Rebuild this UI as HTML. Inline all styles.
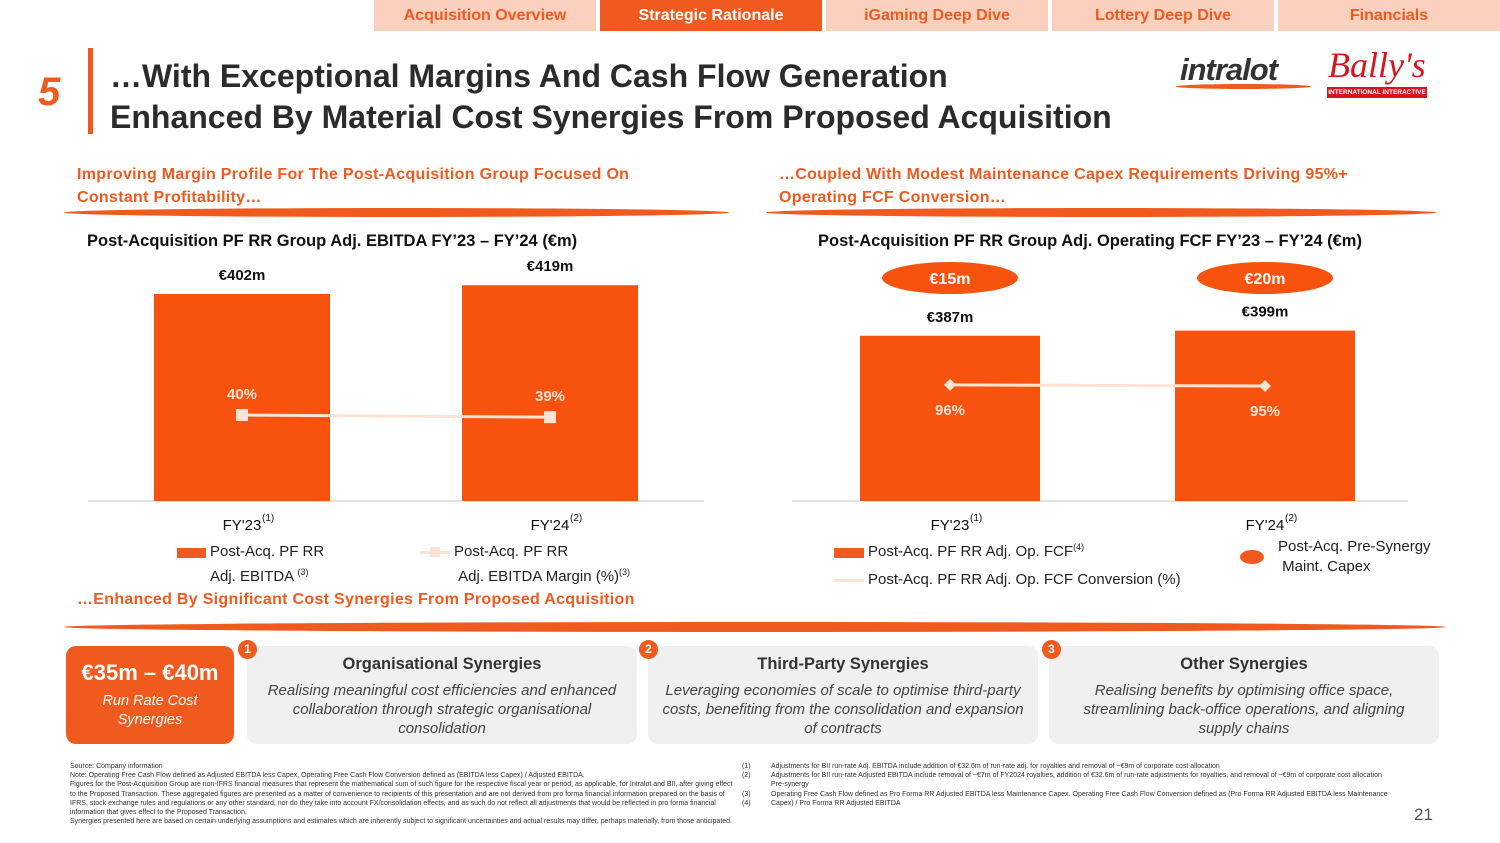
<!DOCTYPE html>
<html><head><meta charset="utf-8">
<style>
*{margin:0;padding:0;box-sizing:border-box}
body{width:1500px;height:843px;background:#fff;font-family:"Liberation Sans",sans-serif;position:relative;overflow:hidden;color:#222}
.abs{position:absolute}
.tab{position:absolute;top:0;height:31px;background:#fbd0bf;color:#f05a1e;font-weight:bold;font-size:16px;text-align:center;line-height:31px}
.tab.on{background:#f05a1e;color:#fff}
.sub{color:#f05a1e;font-weight:bold;font-size:16px;line-height:23px;letter-spacing:.3px}
.swoosh{position:absolute;height:9px;background:#f05a1e;border-radius:50%}
.ct{font-weight:bold;font-size:16.5px;color:#111}
.card{position:absolute;top:646px;height:98px;background:#f0f0f0;border-radius:10px;text-align:center}
.card h3{font-size:16.5px;margin-top:9px;color:#333}
.card p{font-style:italic;font-size:15px;line-height:19px;color:#444;margin-top:7px;padding:0 8px}
.num{position:absolute;width:19px;height:19px;border-radius:50%;background:#f05a1e;color:#fff;font-size:12px;font-weight:bold;text-align:center;line-height:19px}
.fn{font-size:7px;line-height:9.2px;color:#333}
</style></head><body>
<div class="tab" style="left:374px;width:222px">Acquisition Overview</div>
<div class="tab on" style="left:600px;width:222px">Strategic Rationale</div>
<div class="tab" style="left:826px;width:222px">iGaming Deep Dive</div>
<div class="tab" style="left:1052px;width:222px">Lottery Deep Dive</div>
<div class="tab" style="left:1278px;width:222px">Financials</div>

<div class="abs" style="left:38px;top:70px;font-size:40px;font-weight:bold;font-style:italic;color:#f05a1e">5</div>
<div class="abs" style="left:88px;top:48px;width:5px;height:86px;background:#f05a1e"></div>
<div class="abs" style="left:110px;top:56px;font-size:32px;font-weight:bold;line-height:41px;color:#2b2b2b">…With Exceptional Margins And Cash Flow Generation<br>Enhanced By Material Cost Synergies From Proposed Acquisition</div>

<div class="abs" style="left:1180px;top:52px;font-size:31px;font-weight:900;font-style:italic;color:#333;letter-spacing:-1px">intralot</div>
<div class="abs" style="left:1176px;top:84px;width:135px;height:5px;background:#f05a1e;border-radius:50%"></div>
<div class="abs" style="left:1328px;top:44px;font-size:36px;font-style:italic;font-family:'Liberation Serif',serif;color:#d8141e">Bally's</div>
<div class="abs" style="left:1327px;top:87px;width:100px;height:11px;background:#d8141e;color:#fff;font-size:6.5px;font-weight:bold;text-align:center;line-height:11px">INTERNATIONAL INTERACTIVE</div>

<div class="abs sub" style="left:77px;top:163px">Improving Margin Profile For The Post-Acquisition Group Focused On<br>Constant Profitability…</div>
<div class="swoosh" style="left:64px;top:208px;width:665px"></div>
<div class="abs sub" style="left:779px;top:163px">…Coupled With Modest Maintenance Capex Requirements Driving 95%+<br>Operating FCF Conversion…</div>
<div class="swoosh" style="left:766px;top:208px;width:670px"></div>

<div class="abs ct" style="left:87px;top:232px">Post-Acquisition PF RR Group Adj. EBITDA FY’23 – FY’24 (€m)</div>
<div class="abs ct" style="left:818px;top:232px">Post-Acquisition PF RR Group Adj. Operating FCF FY’23 – FY’24 (€m)</div>

<svg class="abs" style="left:0;top:0" width="1500" height="620" id="charts"></svg>

<div class="abs" style="left:177px;top:548px;width:29px;height:10px;background:#f05a1e"></div>
<div class="abs" style="left:210px;top:542px;font-size:15px;line-height:20px">Post-Acq. PF RR<br>Adj. EBITDA <sup style="font-size:9px">(3)</sup></div>
<div class="abs" style="left:420px;top:551px;width:30px;height:3px;background:#fde3d4"></div>
<div class="abs" style="left:430px;top:547px;width:10px;height:10px;background:#fde3d4"></div>
<div class="abs" style="left:454px;top:542px;font-size:15px;line-height:20px">Post-Acq. PF RR<br>&nbsp;Adj. EBITDA Margin (%)<sup style="font-size:9px">(3)</sup></div>
<div class="abs" style="left:834px;top:548px;width:30px;height:10px;background:#f05a1e"></div>
<div class="abs" style="left:868px;top:542px;font-size:15px">Post-Acq. PF RR Adj. Op. FCF<sup style="font-size:9px">(4)</sup></div>
<div class="abs" style="left:834px;top:579px;width:30px;height:3px;background:#fde3d4"></div>
<div class="abs" style="left:868px;top:571px;font-size:15px">Post-Acq. PF RR Adj. Op. FCF Conversion (%)</div>
<div class="abs" style="left:1240px;top:550px;width:24px;height:14px;border-radius:50%;background:#f05a1e"></div>
<div class="abs" style="left:1278px;top:537px;font-size:15px;line-height:20px">Post-Acq. Pre-Synergy<br>&nbsp;Maint. Capex</div>

<div class="abs sub" style="left:77px;top:588px">…Enhanced By Significant Cost Synergies From Proposed Acquisition</div>
<div class="swoosh" style="left:64px;top:622px;width:1382px;height:10px"></div>

<div class="abs" style="left:66px;top:646px;width:168px;height:98px;background:#f05a1e;border-radius:10px;color:#fff;text-align:center">
<div style="font-size:22px;font-weight:bold;margin-top:14px">€35m – €40m</div>
<div style="font-size:14.5px;font-style:italic;line-height:19px;margin-top:6px">Run Rate Cost<br>Synergies</div></div>
<div class="card" style="left:247px;width:390px"><h3>Organisational Synergies</h3><p>Realising meaningful cost efficiencies and enhanced collaboration through strategic organisational consolidation</p></div>
<div class="card" style="left:648px;width:390px"><h3>Third-Party Synergies</h3><p>Leveraging economies of scale to optimise third-party costs, benefiting from the consolidation and expansion of contracts</p></div>
<div class="card" style="left:1049px;width:390px"><h3>Other Synergies</h3><p style="padding:0 22px">Realising benefits by optimising office space, streamlining back-office operations, and aligning supply chains</p></div>
<div class="num" style="left:238px;top:640px">1</div>
<div class="num" style="left:639px;top:640px">2</div>
<div class="num" style="left:1042px;top:640px">3</div>

<div class="abs fn" style="left:70px;top:762px;width:670px">Source: Company information<br>Note: Operating Free Cash Flow defined as Adjusted EBITDA less Capex, Operating Free Cash Flow Conversion defined as (EBITDA less Capex) / Adjusted EBITDA.<br>Figures for the Post-Acquisition Group are non-IFRS financial measures that represent the mathematical sum of such figure for the respective fiscal year or period, as applicable, for Intralot and BII, after giving effect to the Proposed Transaction. These aggregated figures are presented as a matter of convenience to recipients of this presentation and are not derived from pro forma financial information prepared on the basis of IFRS, stock exchange rules and regulations or any other standard, nor do they take into account FX/consolidation effects, and as such do not reflect all adjustments that would be reflected in pro forma financial information that gives effect to the Proposed Transaction.<br>Synergies presented here are based on certain underlying assumptions and estimates which are inherently subject to significant uncertainties and actual results may differ, perhaps materially, from those anticipated.</div>
<div class="abs fn" style="left:742px;top:762px;text-align:right">(1)<br>(2)<br><br>(3)<br>(4)</div>
<div class="abs fn" style="left:771px;top:762px;width:620px">Adjustments for BII run-rate Adj. EBITDA include addition of €32.6m of run-rate adj. for royalties and removal of ~€9m of corporate cost allocation<br>Adjustments for BII run-rate Adjusted EBITDA include removal of ~€7m of FY2024 royalties, addition of €32.6m of run-rate adjustments for royalties, and removal of ~€9m of corporate cost allocation<br>Pre-synergy<br>Operating Free Cash Flow defined as Pro Forma RR Adjusted EBITDA less Maintenance Capex. Operating Free Cash Flow Conversion defined as (Pro Forma RR Adjusted EBITDA less Maintenance Capex) / Pro Forma RR Adjusted EBITDA</div>
<div class="abs" style="left:1414px;top:805px;font-size:17px;color:#555">21</div>

<script>
const categories=["FY'23","FY'24"];
const catNotes=["(1)","(2)"];
const ebitda=[402,419];
const ebitdaLabels=["€402m","€419m"];
const margin=[40,39];
const fcf=[387,399];
const fcfLabels=["€387m","€399m"];
const conversion=[96,95];
const capex=[15,20];
const NS="http://www.w3.org/2000/svg";
const svg=document.getElementById('charts');
function mk(t,a,txt){const e=document.createElementNS(NS,t);for(const k in a)e.setAttribute(k,a[k]);if(txt!==undefined)e.textContent=txt;svg.appendChild(e);return e;}
const base=501;
function draw(cfg){
  const ax=mk('line',{x1:cfg.x0,x2:cfg.x1,y1:base,y2:base,stroke:'#d9d9d9','stroke-width':1.5});
  
  const pts=[];
  categories.forEach((c,i)=>{
    const cx=cfg.cx[i], h=cfg.bars[i]*cfg.k, y=base-h;
    const r=mk('rect',{x:cx-cfg.bw/2,y:y,width:cfg.bw,height:h,fill:'#f7530f'});
    
    const l=mk('text',{x:cx,y:y-14,'text-anchor':'middle','font-size':15,'font-weight':'bold',fill:'#111'},cfg.labels[i]);
    
    const tl=mk('text',{x:cx,y:530,'text-anchor':'middle','font-size':15,fill:'#111'},c);
    
    const tn=mk('text',{x:cx+20,y:521,'font-size':10,fill:'#111'},catNotes[i]);
    
    pts.push([cx,base-cfg.line[i]*cfg.pk]);
  });
  const pl=mk('polyline',{points:pts.map(p=>p.join(',')).join(' '),fill:'none',stroke:'#fde3d4','stroke-width':3});
  
  pts.forEach((p,i)=>{
    let m;
    if(cfg.diamond) m=mk('polygon',{points:`${p[0]},${p[1]-6} ${p[0]+6},${p[1]} ${p[0]},${p[1]+6} ${p[0]-6},${p[1]}`,fill:'#fde3d4'});
    else m=mk('rect',{x:p[0]-6,y:p[1]-6,width:12,height:12,fill:'#fde3d4'});
    
    const t=mk('text',{x:p[0],y:p[1]+cfg.pdy,'text-anchor':'middle','font-size':15,'font-weight':'bold',fill:'#fde3d4'},cfg.line[i]+'%');
    
  });
}
draw({id:'ebitda',x0:88,x1:704,cx:[242,550],bw:176,bars:ebitda,k:0.515,labels:ebitdaLabels,line:margin,pk:2.15,pdy:-16,diamond:false});
draw({id:'fcf',x0:792,x1:1408,cx:[950,1265],bw:180,bars:fcf,k:0.427,labels:fcfLabels,line:conversion,pk:1.21,pdy:30,diamond:true});
[950,1265].forEach((cx,i)=>{
  const e=mk('ellipse',{cx:cx,cy:278,rx:68,ry:16,fill:'#f7530f'});
  
  const t=mk('text',{x:cx,y:284,'text-anchor':'middle','font-size':16,'font-weight':'bold',fill:'#fff'},'€'+capex[i]+'m');
  
});
</script>
</body></html>
